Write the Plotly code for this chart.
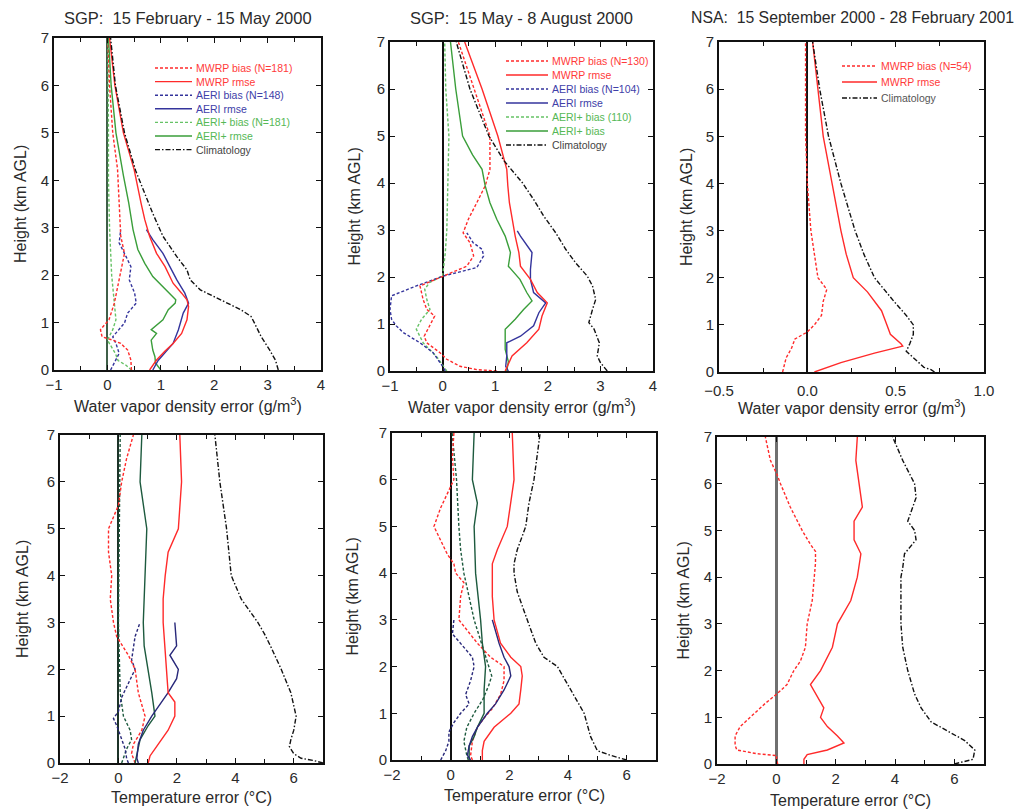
import plotly.graph_objects as go

W, H = 1019, 811

# ================= DATA =================
# Panel 1 : SGP 15 Feb - 15 May 2000, water vapour density error (g/m3)
p1_clim_h = [0, 0.2, 0.42, 0.7, 1.0, 1.13, 1.27, 1.41, 1.55, 1.69, 1.9, 2.11, 2.39, 2.82, 3.3, 3.8, 4.2, 5.0, 6.0, 7.0]
p1_clim = [3.2, 3.15, 3.04, 2.88, 2.75, 2.69, 2.5, 2.25, 2.0, 1.74, 1.55, 1.49, 1.3, 1.04, 0.85, 0.68, 0.53, 0.32, 0.15, 0.06]
p1_mwrp_rmse_h = [0, 0.1, 0.21, 0.4, 0.56, 0.77, 1.06, 1.34, 1.48, 1.62, 1.83, 2.18, 2.46, 2.82, 3.17, 3.52, 3.87, 4.23, 5.0, 6.0, 7.0]
p1_mwrp_rmse = [0.79, 0.85, 0.92, 1.08, 1.23, 1.39, 1.49, 1.52, 1.49, 1.39, 1.23, 1.08, 0.92, 0.79, 0.7, 0.63, 0.57, 0.5, 0.3, 0.14, 0.04]
p1_aeri_rmse_h = [0, 0.2, 0.56, 0.85, 1.2, 1.41, 1.62, 1.9, 2.18, 2.46, 2.75, 2.96]
p1_aeri_rmse = [0.85, 0.95, 1.23, 1.33, 1.42, 1.52, 1.45, 1.3, 1.17, 1.04, 0.85, 0.73]
p1_aerip_rmse_h = [0, 0.15, 0.28, 0.42, 0.63, 0.77, 0.85, 0.95, 1.06, 1.27, 1.41, 1.48, 1.76, 1.97, 2.25, 2.54, 2.96, 3.52, 4.1, 5.0, 6.0, 7.0]
p1_aerip_rmse = [1.0, 0.9, 0.89, 0.85, 0.82, 0.92, 0.82, 0.92, 1.04, 1.14, 1.27, 1.28, 1.04, 0.85, 0.7, 0.57, 0.48, 0.4, 0.3, 0.16, 0.07, 0.02]
p1_mwrp_bias_h = [0, 0.1, 0.21, 0.42, 0.56, 0.63, 0.7, 0.85, 1.06, 1.41, 1.76, 2.11, 2.46, 2.82, 3.52, 4.23, 5.0, 6.0, 7.0]
p1_mwrp_bias = [0.45, 0.44, 0.44, 0.38, 0.25, 0.1, -0.1, -0.13, 0.03, 0.13, 0.19, 0.25, 0.32, 0.25, 0.22, 0.19, 0.1, 0.04, 0.01]
p1_aeri_bias_h = [0, 0.21, 0.35, 0.56, 0.7, 0.99, 1.2, 1.41, 1.62, 1.9, 2.18, 2.39, 2.68, 2.96]
p1_aeri_bias = [0.06, 0.15, 0.22, 0.16, 0.1, 0.32, 0.38, 0.54, 0.51, 0.41, 0.44, 0.35, 0.22, 0.25]
p1_aerip_bias_h = [0, 0.1, 0.2, 0.35, 0.63, 0.85, 1.06, 1.5, 2.0, 3.0, 4.0, 5.0, 6.0, 7.0]
p1_aerip_bias = [0.45, 0.35, 0.2, 0.15, 0.0, 0.1, 0.16, 0.12, 0.08, 0.04, 0.02, 0.02, 0.01, 0.01]

# Panel 2 : SGP 15 May - 8 August 2000, water vapour density error
p2_clim_h = [0, 0.18, 0.32, 0.6, 0.89, 1.03, 1.31, 1.52, 1.81, 2.02, 2.3, 2.59, 2.94, 3.3, 3.65, 4.0, 4.47, 5.0, 6.0, 7.0]
p2_clim = [3.13, 3.0, 2.94, 2.98, 2.88, 2.78, 2.85, 2.91, 2.85, 2.75, 2.53, 2.34, 2.15, 1.92, 1.73, 1.52, 1.17, 0.88, 0.52, 0.26]
p2_mwrp_rmse_h = [0, 0.32, 0.6, 0.89, 1.17, 1.45, 1.67, 1.95, 2.23, 2.52, 2.87, 3.23, 3.58, 3.94, 4.29, 5.0, 6.0, 7.0]
p2_mwrp_rmse = [1.19, 1.32, 1.6, 1.83, 1.89, 1.99, 1.8, 1.67, 1.48, 1.45, 1.38, 1.32, 1.27, 1.24, 1.22, 1.05, 0.75, 0.42]
p2_aeri_rmse_h = [0, 0.1, 0.32, 0.6, 0.74, 0.96, 1.24, 1.45, 1.67, 1.95, 2.16, 2.52, 2.87, 2.98]
p2_aeri_rmse = [1.25, 1.2, 1.22, 1.22, 1.48, 1.73, 1.83, 1.96, 1.73, 1.67, 1.67, 1.7, 1.48, 1.42]
p2_aerip_rmse_h = [0, 0.2, 0.46, 0.89, 1.1, 1.31, 1.49, 1.67, 1.95, 2.23, 2.52, 2.87, 3.23, 3.58, 3.94, 4.29, 4.6, 5.0, 6.0, 7.0]
p2_aerip_rmse = [1.22, 1.25, 1.19, 1.19, 1.38, 1.54, 1.7, 1.6, 1.47, 1.25, 1.29, 1.19, 1.03, 0.9, 0.81, 0.75, 0.57, 0.38, 0.25, 0.15]
p2_mwrp_bias_h = [0, 0.03, 0.1, 0.25, 0.39, 0.6, 0.74, 0.96, 1.17, 1.31, 1.52, 1.81, 2.02, 2.23, 2.45, 2.73, 2.94, 3.23, 3.58, 3.94, 4.29, 5.0, 6.0, 7.0]
p2_mwrp_bias = [1.03, 0.65, 0.33, 0.08, -0.05, -0.3, -0.35, -0.24, -0.15, -0.3, -0.37, -0.43, 0.01, 0.46, 0.59, 0.52, 0.39, 0.49, 0.65, 0.81, 0.9, 0.9, 0.6, 0.3]
p2_aeri_bias_h = [0, 0.1, 0.39, 0.6, 0.82, 0.96, 1.1, 1.31, 1.6, 1.81, 2.02, 2.2, 2.45, 2.59, 2.73, 2.94]
p2_aeri_bias = [0.05, 0.0, -0.18, -0.43, -0.75, -0.88, -0.97, -1.0, -0.97, -0.5, 0.01, 0.65, 0.78, 0.75, 0.58, 0.46]
p2_aerip_bias_h = [0, 0.3, 0.6, 0.89, 1.1, 1.31, 1.52, 1.74, 1.88, 2.02, 2.5, 3.0, 4.0, 5.0, 6.0, 7.0]
p2_aerip_bias = [0.08, -0.11, -0.37, -0.5, -0.4, -0.24, -0.3, -0.34, -0.25, 0.0, 0.05, 0.08, 0.1, 0.12, 0.06, 0.04]

# Panel 3 : NSA 15 Sep 2000 - 28 Feb 2001, water vapour density error
p3_clim_h = [0, 0.05, 0.1, 0.23, 0.44, 0.6, 0.8, 1.0, 1.2, 1.5, 2.0, 2.5, 3.0, 4.0, 5.0, 6.0, 7.0]
p3_clim = [0.72, 0.7, 0.66, 0.62, 0.56, 0.58, 0.6, 0.6, 0.56, 0.49, 0.38, 0.32, 0.27, 0.19, 0.12, 0.07, 0.03]
p3_mwrp_rmse_h = [0, 0.05, 0.2, 0.4, 0.55, 0.6, 0.8, 1.0, 1.3, 1.7, 2.0, 2.5, 3.0, 4.0, 5.0, 6.0, 7.0]
p3_mwrp_rmse = [0.04, 0.08, 0.19, 0.38, 0.54, 0.53, 0.47, 0.45, 0.42, 0.34, 0.26, 0.22, 0.19, 0.14, 0.09, 0.06, 0.03]
p3_mwrp_bias_h = [0, 0.3, 0.5, 0.7, 0.85, 1.0, 1.2, 1.5, 1.75, 2.0, 2.5, 3.0, 4.0, 5.0, 6.0, 7.0]
p3_mwrp_bias = [-0.14, -0.12, -0.09, -0.07, 0.0, 0.04, 0.08, 0.09, 0.11, 0.06, 0.04, 0.02, 0.0, -0.01, -0.01, -0.01]

# Panel 4 : SGP 15 Feb - 15 May 2000, temperature error (C)
p4_clim_h = [0, 0.05, 0.1, 0.2, 0.35, 0.5, 0.7, 1.0, 1.5, 2.0, 2.5, 2.75, 3.0, 3.5, 4.0, 5.0, 6.0, 7.0]
p4_clim = [7.0, 6.7, 6.25, 6.0, 5.85, 5.9, 6.0, 6.08, 5.9, 5.57, 5.2, 5.0, 4.77, 4.2, 3.86, 3.7, 3.47, 3.3]
p4_mwrp_rmse_h = [0, 0.15, 0.3, 0.5, 0.7, 1.0, 1.3, 1.5, 2.0, 2.5, 3.0, 3.5, 4.0, 4.5, 5.0, 6.0, 7.0]
p4_mwrp_rmse = [1.02, 1.08, 1.25, 1.48, 1.7, 1.93, 1.93, 1.7, 1.65, 1.6, 1.53, 1.53, 1.6, 1.7, 2.05, 2.16, 2.1]
p4_aerip_rmse_h = [0, 0.2, 0.5, 0.8, 1.0, 1.5, 2.0, 2.5, 3.0, 4.0, 5.0, 6.0, 7.0]
p4_aerip_rmse = [0.57, 0.63, 0.74, 1.02, 1.25, 1.14, 1.02, 0.88, 0.85, 0.91, 0.97, 0.74, 0.8]
p4_aeri_rmse_h = [0, 0.1, 0.4, 0.7, 1.0, 1.2, 1.5, 1.8, 2.0, 2.3, 2.5, 3.0]
p4_aeri_rmse = [0.68, 0.63, 0.68, 0.85, 1.14, 1.36, 1.7, 1.99, 2.05, 1.76, 1.99, 1.93]
p4_mwrp_bias_h = [0, 0.2, 0.4, 0.7, 1.0, 1.5, 2.0, 2.3, 2.7, 3.0, 3.5, 4.0, 4.5, 5.0, 5.5, 6.0, 6.5, 7.0]
p4_mwrp_bias = [0.57, 0.45, 0.51, 0.8, 0.91, 0.68, 0.57, 0.34, -0.06, -0.17, -0.28, -0.23, -0.34, -0.34, 0.0, 0.11, 0.28, 0.51]
p4_aeri_bias_h = [0, 0.1, 0.3, 0.6, 0.8, 0.95, 1.1, 1.4, 1.7, 2.0, 2.2, 2.5, 2.7, 3.0]
p4_aeri_bias = [0.34, 0.28, 0.23, 0.06, -0.06, -0.17, 0.0, 0.11, 0.34, 0.57, 0.45, 0.51, 0.57, 0.74]
p4_aerip_bias_h = [0, 0.1, 0.3, 0.5, 0.7, 1.0, 1.5, 3.0, 5.0, 7.0]
p4_aerip_bias = [0.11, 0.17, 0.28, 0.45, 0.4, 0.17, 0.06, 0.0, 0.02, 0.06]

# Panel 5 : SGP 15 May - 8 August 2000, temperature error
p5_clim_h = [0, 0.1, 0.2, 0.5, 1.0, 1.5, 2.0, 2.2, 2.5, 3.0, 3.6, 4.0, 4.2, 4.5, 5.0, 5.5, 6.0, 7.0]
p5_clim = [6.0, 5.45, 5.0, 4.77, 4.55, 4.1, 3.64, 3.18, 2.9, 2.61, 2.27, 2.16, 2.16, 2.27, 2.56, 2.67, 2.84, 3.05]
p5_mwrp_rmse_h = [0, 0.2, 0.4, 0.7, 1.0, 1.2, 1.5, 1.8, 2.0, 2.2, 2.5, 3.0, 3.5, 4.2, 4.5, 5.0, 6.0, 7.0]
p5_mwrp_rmse = [1.08, 1.08, 1.14, 1.48, 2.05, 2.33, 2.39, 2.44, 2.39, 2.05, 1.7, 1.48, 1.42, 1.42, 1.59, 1.93, 2.16, 2.1]
p5_aeri_rmse_h = [0, 0.1, 0.3, 0.5, 0.7, 1.0, 1.2, 1.5, 1.8, 2.0, 2.2, 2.5, 3.0]
p5_aeri_rmse = [0.68, 0.57, 0.63, 0.74, 0.91, 1.25, 1.53, 1.82, 2.05, 1.99, 1.82, 1.65, 1.42]
p5_aerip_rmse_h = [0, 0.3, 0.5, 0.7, 1.0, 1.5, 2.0, 2.5, 3.0, 4.0, 5.0, 5.5, 6.0, 7.0]
p5_aerip_rmse = [0.63, 0.63, 0.8, 0.91, 1.14, 1.14, 1.19, 1.08, 1.02, 0.85, 0.8, 0.91, 0.74, 0.8]
p5_mwrp_bias_h = [0, 0.1, 0.4, 0.7, 0.9, 1.1, 1.4, 1.7, 2.0, 2.2, 2.5, 3.0, 3.5, 3.8, 4.0, 4.2, 4.4, 4.7, 5.0, 5.4, 5.7, 6.0, 6.5, 7.0]
p5_mwrp_bias = [0.74, 0.68, 0.74, 0.91, 1.14, 1.42, 1.7, 1.82, 1.82, 1.36, 0.91, 0.28, 0.34, 0.45, 0.17, 0.11, -0.11, -0.34, -0.57, -0.34, -0.11, 0.11, 0.06, 0.11]
p5_aeri_bias_h = [0, 0.2, 0.4, 0.6, 0.8, 1.0, 1.2, 1.4, 1.7, 2.0, 2.2, 2.5, 2.7, 3.0]
p5_aeri_bias = [-0.34, -0.17, -0.06, -0.06, 0.11, 0.34, 0.63, 0.51, 0.68, 0.8, 0.74, 0.34, 0.06, 0.11]
p5_aerip_bias_h = [0, 0.1, 0.4, 0.7, 1.0, 1.3, 1.6, 1.8, 2.0, 2.5, 3.0, 4.0, 4.5, 5.0, 6.0, 7.0]
p5_aerip_bias = [0.6, 0.55, 0.45, 0.55, 0.8, 1.1, 1.3, 1.4, 1.3, 1.05, 0.8, 0.45, 0.34, 0.28, 0.2, 0.05]

# Panel 6 : NSA 15 Sep 2000 - 28 Feb 2001, temperature error
p6_clim_h = [0, 0.05, 0.1, 0.3, 0.5, 0.7, 0.9, 1.2, 1.5, 2.0, 2.5, 3.0, 3.5, 4.0, 4.2, 4.5, 4.8, 5.0, 5.2, 5.5, 5.7, 6.0, 6.5, 7.0]
p6_clim = [6.0, 6.35, 6.63, 6.69, 6.35, 5.79, 5.22, 4.88, 4.66, 4.43, 4.26, 4.2, 4.2, 4.2, 4.26, 4.32, 4.71, 4.66, 4.43, 4.6, 4.71, 4.66, 4.26, 3.92]
p6_mwrp_rmse_h = [0, 0.1, 0.2, 0.3, 0.45, 0.6, 0.8, 1.0, 1.2, 1.5, 1.7, 2.0, 2.5, 3.0, 3.5, 4.0, 4.5, 4.8, 5.0, 5.2, 5.5, 6.0, 6.5, 7.0]
p6_mwrp_rmse = [0.93, 0.93, 1.04, 1.72, 2.28, 2.06, 1.72, 1.49, 1.6, 1.32, 1.15, 1.49, 1.89, 2.06, 2.51, 2.73, 2.85, 2.62, 2.62, 2.62, 2.9, 2.79, 2.68, 2.73]
p6_mwrp_bias_h = [0, 0.1, 0.18, 0.22, 0.3, 0.4, 0.6, 0.8, 1.0, 1.3, 1.5, 1.7, 2.0, 2.2, 2.5, 3.0, 3.5, 4.0, 4.3, 4.55, 4.7, 5.0, 5.5, 6.0, 6.2, 6.5, 7.0]
p6_mwrp_bias = [0.05, 0.0, 0.02, -0.66, -1.33, -1.39, -1.39, -1.22, -0.88, -0.37, 0.02, 0.36, 0.59, 0.81, 0.98, 1.04, 1.21, 1.27, 1.32, 1.32, 1.15, 0.87, 0.47, 0.14, 0.02, -0.2, -0.37]

# Text
titles = ["SGP:\u00a0 15 February - 15 May 2000", "SGP:\u00a0 15 May - 8 August 2000",
          "NSA:\u00a0 15 September 2000 - 28 February 2001"]
wv_label = "Water vapor density error (g/m<sup>3</sup>)"
t_label = "Temperature error (\u00b0C)"
y_label = "Height (km AGL)"
leg1_labels = ["MWRP bias (N=181)", "MWRP rmse", "AERI bias (N=148)", "AERI rmse",
               "AERI+ bias (N=181)", "AERI+ rmse", "Climatology"]
leg2_labels = ["MWRP bias (N=130)", "MWRP rmse", "AERI bias (N=104)", "AERI rmse",
               "AERI+ bias (110)", "AERI+ bias", "Climatology"]
leg3_labels = ["MWRP bias (N=54)", "MWRP rmse", "Climatology"]

# ================= STYLE =================
FONT = "Liberation Sans, Arial, sans-serif"
TXT = "#2a2a2a"
RED = "#ff2a2a"
BLUE = "#34349c"
BLUE_B = "#28287a"
GREEN = "#3a9e3a"
GREEN_D = "#66c266"
GREEN_B = "#1d5a3e"
BLACK = "#111111"
DASH = "3px,2px"
CLIM_DASH = "5px,2px,1.5px,2px"

# panel plot areas in pixels: (left, right, top, bottom)
boxes = [(54, 321, 38, 370), (390, 653, 42, 371), (719, 984, 42, 372),
         (60, 323, 435, 763), (392, 656, 433, 760), (717, 984, 437, 764)]
xranges = [[-1, 4], [-1, 4], [-0.5, 1.0], [-2, 7], [-2, 7], [-2, 7]]
xdticks = [1, 1, 0.5, 2, 2, 2]
xminor = [0.5, 0.5, 0.25, 1, 1, 1]
xfmt = ["", "", ".1f", "", "", ""]
xstandoff = [0, 0, 4, 0, 0, 0]
zero_col = ["#3f5f48", BLACK, BLACK, "#1c3328", BLACK, "#707070"]
zero_w = [2.2, 1.5, 1.5, 2.2, 1.5, 2.6]
ytitle_x = [20, 354, 686, 22, 352, 683]
xtitle_y = [405, 406, 407, 797, 795, 800]

fig = go.Figure()


def ax(i):
    return ("x" if i == 0 else "x%d" % (i + 1)), ("y" if i == 0 else "y%d" % (i + 1))


def add(i, xs, hs, color, dash="solid", width=1.4):
    xa, ya = ax(i)
    fig.add_trace(go.Scatter(x=xs, y=hs, mode="lines", xaxis=xa, yaxis=ya, showlegend=False,
                             hoverinfo="skip", line=dict(color=color, dash=dash, width=width)))


# panel 1
add(0, p1_aerip_bias, p1_aerip_bias_h, GREEN_D, DASH)
add(0, p1_aeri_bias, p1_aeri_bias_h, BLUE, DASH)
add(0, p1_mwrp_bias, p1_mwrp_bias_h, RED, DASH)
add(0, p1_aerip_rmse, p1_aerip_rmse_h, GREEN)
add(0, p1_aeri_rmse, p1_aeri_rmse_h, BLUE)
add(0, p1_mwrp_rmse, p1_mwrp_rmse_h, RED)
add(0, p1_clim, p1_clim_h, BLACK, CLIM_DASH)
# panel 2
add(1, p2_aerip_bias, p2_aerip_bias_h, GREEN_D, DASH)
add(1, p2_aeri_bias, p2_aeri_bias_h, BLUE, DASH)
add(1, p2_mwrp_bias, p2_mwrp_bias_h, RED, DASH)
add(1, p2_aerip_rmse, p2_aerip_rmse_h, GREEN)
add(1, p2_aeri_rmse, p2_aeri_rmse_h, BLUE)
add(1, p2_mwrp_rmse, p2_mwrp_rmse_h, RED)
add(1, p2_clim, p2_clim_h, BLACK, CLIM_DASH)
# panel 3
add(2, p3_mwrp_bias, p3_mwrp_bias_h, RED, DASH)
add(2, p3_mwrp_rmse, p3_mwrp_rmse_h, RED)
add(2, p3_clim, p3_clim_h, BLACK, CLIM_DASH)
# panel 4
add(3, p4_aerip_bias, p4_aerip_bias_h, GREEN_B, DASH)
add(3, p4_aeri_bias, p4_aeri_bias_h, BLUE_B, DASH)
add(3, p4_mwrp_bias, p4_mwrp_bias_h, RED, DASH)
add(3, p4_aerip_rmse, p4_aerip_rmse_h, GREEN_B)
add(3, p4_aeri_rmse, p4_aeri_rmse_h, BLUE_B)
add(3, p4_mwrp_rmse, p4_mwrp_rmse_h, RED)
add(3, p4_clim, p4_clim_h, BLACK, CLIM_DASH)
# panel 5
add(4, p5_aerip_bias, p5_aerip_bias_h, GREEN_B, DASH)
add(4, p5_aeri_bias, p5_aeri_bias_h, BLUE_B, DASH)
add(4, p5_mwrp_bias, p5_mwrp_bias_h, RED, DASH)
add(4, p5_aerip_rmse, p5_aerip_rmse_h, GREEN_B)
add(4, p5_aeri_rmse, p5_aeri_rmse_h, BLUE_B)
add(4, p5_mwrp_rmse, p5_mwrp_rmse_h, RED)
add(4, p5_clim, p5_clim_h, BLACK, CLIM_DASH)
# panel 6
add(5, p6_mwrp_bias, p6_mwrp_bias_h, RED, DASH)
add(5, p6_mwrp_rmse, p6_mwrp_rmse_h, RED)
add(5, p6_clim, p6_clim_h, BLACK, CLIM_DASH)

layout = dict(width=W, height=H, autosize=False, margin=dict(l=0, r=0, t=0, b=0),
              paper_bgcolor="white", plot_bgcolor="white", showlegend=False,
              font=dict(family=FONT, size=15, color=TXT))
annotations = []
shapes = []

for i, (l, r, t, b) in enumerate(boxes):
    sfx = "" if i == 0 else str(i + 1)
    xa, ya = ax(i)
    common = dict(showline=True, linecolor=BLACK, linewidth=1.6, mirror="ticks", ticks="inside",
                  ticklen=5, tickwidth=1.2, tickcolor=BLACK, showgrid=False, automargin=False,
                  tickfont=dict(family=FONT, size=15, color=TXT))
    layout["xaxis" + sfx] = dict(common, domain=[l / W, r / W], anchor=ya, range=xranges[i],
                                 dtick=xdticks[i], tick0=0, tickformat=xfmt[i],
                                 ticklabelstandoff=xstandoff[i],
                                 minor=dict(dtick=xminor[i], ticks="inside", ticklen=4, tickcolor=BLACK),
                                 zeroline=True, zerolinecolor=zero_col[i], zerolinewidth=zero_w[i])
    layout["yaxis" + sfx] = dict(common, domain=[1 - b / H, 1 - t / H], anchor=xa, range=[0, 7],
                                 dtick=1, zeroline=False)
    cx = (l + r) / 2
    annotations.append(dict(text=wv_label if i < 3 else t_label, x=cx / W, y=1 - xtitle_y[i] / H,
                            xref="paper", yref="paper", showarrow=False, xanchor="center",
                            yanchor="middle", font=dict(family=FONT, size=16, color=TXT)))
    annotations.append(dict(text=y_label, x=ytitle_x[i] / W, y=1 - (t + b) / 2 / H, textangle=-90,
                            xref="paper", yref="paper", showarrow=False, xanchor="center",
                            yanchor="middle", font=dict(family=FONT, size=16, color=TXT)))

# panel titles
title_pos = [((54 + 321) / 2, "center"), ((390 + 653) / 2, "center"), (1016, "right")]
title_size = [16.5, 16.5, 15.8]
for k, (tx, anc) in enumerate(title_pos):
    annotations.append(dict(text=titles[k], x=tx / W, y=1 - 18 / H, xref="paper", yref="paper",
                            showarrow=False, xanchor=anc, yanchor="middle",
                            font=dict(family=FONT, size=title_size[k], color=TXT)))

# legends (line samples + coloured text, upper right of the top panels)
legend_styles_full = [(RED, DASH, "#ff3a3a"), (RED, "solid", "#ff3a3a"), (BLUE, DASH, "#4040a8"),
                      (BLUE, "solid", "#4040a8"), (GREEN_D, DASH, "#55b855"), (GREEN, "solid", "#55b855"),
                      (BLACK, CLIM_DASH, "#444")]
legend_styles_nsa = [(RED, DASH, "#ff3a3a"), (RED, "solid", "#ff3a3a"), (BLACK, CLIM_DASH, "#555")]
legend_specs = [(leg1_labels, legend_styles_full, 155, 192, 68, 13.6),
                (leg2_labels, legend_styles_full, 506, 548, 61, 14.0),
                (leg3_labels, legend_styles_nsa, 842, 877, 66, 16.0)]
for labels, styles, lx0, lx1, ly0, dy in legend_specs:
    for k, (lab, (lc, ld, tc)) in enumerate(zip(labels, styles)):
        yy = 1 - (ly0 + k * dy) / H
        shapes.append(dict(type="line", xref="paper", yref="paper", x0=lx0 / W, x1=lx1 / W, y0=yy, y1=yy,
                           line=dict(color=lc, dash=ld, width=1.4)))
        annotations.append(dict(text=lab, x=(lx1 + 2) / W, y=yy, xref="paper", yref="paper",
                                showarrow=False, xanchor="left", yanchor="middle",
                                font=dict(family=FONT, size=10.5, color=tc)))

layout["annotations"] = annotations
layout["shapes"] = shapes
fig.update_layout(**layout)

fig.write_html("out.html", config={"displayModeBar": False},
               post_script="document.body.style.margin='0';")
